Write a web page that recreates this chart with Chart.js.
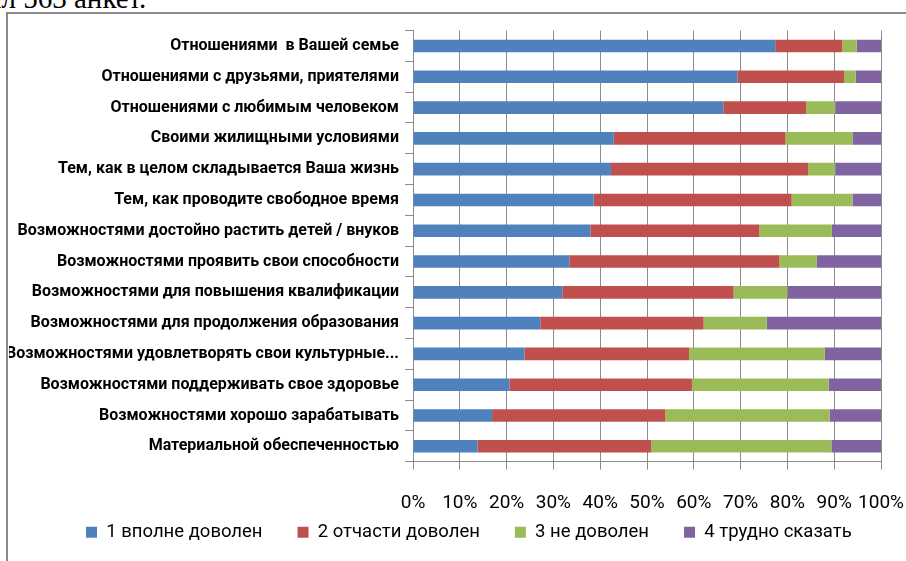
<!DOCTYPE html>
<html>
<head>
<meta charset="utf-8">
<script src="https://cdn.jsdelivr.net/npm/chart.js@4"></script>
<style>
    html, body { margin: 0; padding: 0; width: 906px; height: 561px; overflow: hidden; background: #fff; }
    #caption { position: absolute; left: -14px; top: -16px; font: 29px "Liberation Serif", "Times New Roman", serif; line-height: 29px; white-space: nowrap; color: #000; }
    #frame { position: absolute; left: 6px; top: 12px; width: 1000px; height: 1000px; border-left: 2px solid #8a8a8a; border-top: 2px solid #8a8a8a; }
    #wrap { position: absolute; left: 9px; top: 15px; width: 897px; height: 585px; }
</style>
</head>
<body>
<div id="caption">ил 563 анкет.</div>
<div id="frame"></div>
<div id="wrap"><canvas id="satisfactionChart"></canvas></div>
<script>
const categories = [
    "Отношениями  в Вашей семье",
    "Отношениями с друзьями, приятелями",
    "Отношениями с любимым человеком",
    "Своими жилищными условиями",
    "Тем, как в целом складывается Ваша жизнь",
    "Тем, как проводите свободное время",
    "Возможностями достойно растить детей / внуков",
    "Возможностями проявить свои способности",
    "Возможностями для повышения квалификации",
    "Возможностями для продолжения образования",
    "Возможностями удовлетворять свои культурные...",
    "Возможностями поддерживать свое здоровье",
    "Возможностями хорошо зарабатывать",
    "Материальной обеспеченностью"
];
const seriesNames = ["1 вполне доволен", "2 отчасти доволен", "3 не доволен", "4 трудно сказать"];
const fullySatisfied  = [77.4, 69.3, 66.3, 42.9, 42.3, 38.6, 37.9, 33.4, 31.9, 27.2, 23.8, 20.6, 16.9, 13.8];
const partlySatisfied = [14.3, 22.8, 17.7, 36.7, 42.1, 42.3, 36.1, 44.9, 36.6, 34.9, 35.2, 39.0, 37.0, 37.1];
const notSatisfied    = [3.1, 2.5, 6.2, 14.3, 5.8, 13.0, 15.5, 8.0, 11.5, 13.5, 29.0, 29.2, 35.1, 38.5];
const hardToSay       = [5.2, 5.4, 9.8, 6.1, 9.8, 6.1, 10.5, 13.7, 20.0, 24.4, 12.0, 11.2, 11.0, 10.6];
const tickLabels = ["0%", "10%", "20%", "30%", "40%", "50%", "60%", "70%", "80%", "90%", "100%"];

const colors = ["#4f81bd", "#c0504d", "#9bbb59", "#8064a2"];
const fontFamily = 'Roboto, "Noto Sans", sans-serif';
const gridColor = "#8c8c8c";

function loadSatisfactionChart() {
    const values = [fullySatisfied, partlySatisfied, notSatisfied, hardToSay];
    const data = {
        labels: categories,
        datasets: seriesNames.map((name, i) => ({
            label: name,
            data: values[i],
            backgroundColor: colors[i],
            borderWidth: 0,
            barPercentage: 0.41,
            categoryPercentage: 1,
        })),
    };

    // move the legend row up and left, like in the original picture
    const legendShift = {
        id: "legendShift",
        afterUpdate(chart) {
            const lg = chart.legend;
            const h = lg.bottom - lg.top;
            lg.top = 473;
            lg.bottom = lg.top + h;
            lg.left = 42;
            lg.right = chart.width + 200;
        },
    };

    const config = {
        type: "bar",
        data: data,
        plugins: [legendShift],
        options: {
            indexAxis: "y",
            responsive: true,
            maintainAspectRatio: false,
            animation: false,
            layout: { padding: { left: 0, right: 0, top: 5.5, bottom: 0 } },
            scales: {
                x: {
                    stacked: true,
                    min: 0,
                    max: 100,
                    ticks: {
                        stepSize: 10,
                        autoSkip: false,
                        maxRotation: 0,
                        padding: 22,
                        color: "#000",
                        font: { family: fontFamily, size: 19 },
                        callback: (v) => tickLabels[Math.round(v / 10)],
                    },
                    grid: { color: gridColor, lineWidth: 1, tickLength: 8 },
                    border: { color: gridColor },
                    afterFit(scale) {
                        scale.paddingLeft = 0;
                        scale.paddingRight = 25;
                    },
                },
                y: {
                    stacked: true,
                    ticks: {
                        autoSkip: false,
                        padding: 6,
                        color: "#000",
                        font: { family: fontFamily, size: 16, weight: "bold" },
                    },
                    grid: { drawOnChartArea: false, offset: true, color: gridColor, tickLength: 8 },
                    border: { color: gridColor },
                    afterFit(scale) { scale.width = 404; },
                },
            },
            plugins: {
                legend: {
                    position: "bottom",
                    align: "start",
                    labels: {
                        boxWidth: 11,
                        boxHeight: 11,
                        padding: 35,
                        color: "#000",
                        font: { family: fontFamily, size: 18.5 },
                    },
                },
                tooltip: { enabled: false },
            },
        },
    };

    new Chart(document.getElementById("satisfactionChart"), config);
}

loadSatisfactionChart();
</script>
</body>
</html>
